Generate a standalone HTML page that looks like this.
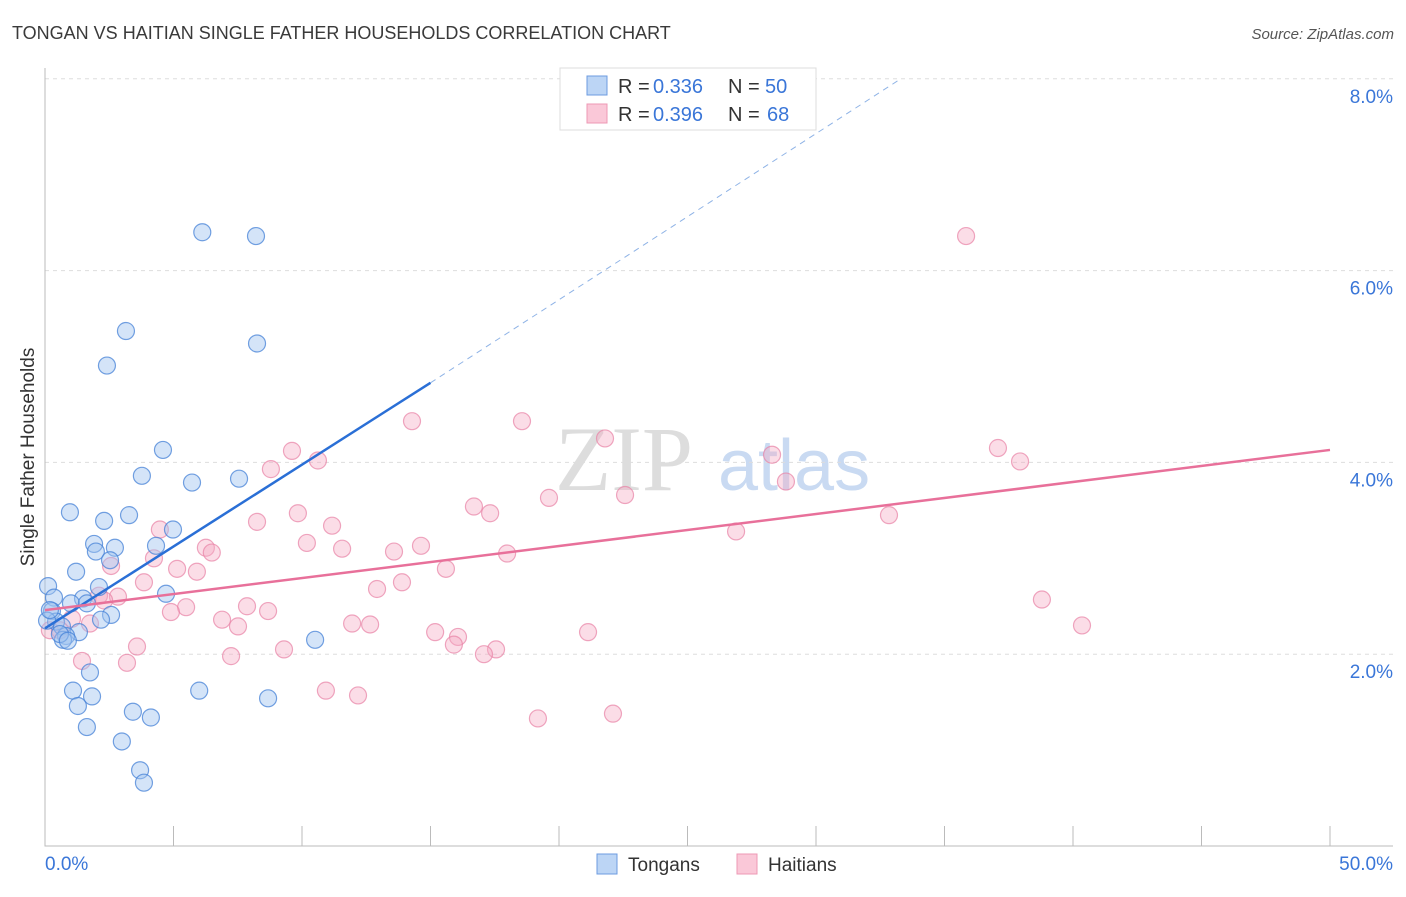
<!DOCTYPE html>
<html><head><meta charset="utf-8"><style>
body{margin:0;background:#fff;font-family:"Liberation Sans",sans-serif}
</style></head><body>
<svg id="c" width="1406" height="892" xmlns="http://www.w3.org/2000/svg" font-family="Liberation Sans, sans-serif">
<text x="12" y="39" font-size="18" fill="#3a3a3a">TONGAN VS HAITIAN SINGLE FATHER HOUSEHOLDS CORRELATION CHART</text>
<text x="1394" y="39" font-size="15" fill="#555" text-anchor="end" font-style="italic">Source: ZipAtlas.com</text>
<text x="555" y="490" font-size="92" fill="#ddd" font-family="Liberation Serif, serif">ZIP</text>
<text x="718" y="490" font-size="72" fill="#c9daf2">atlas</text>
<text transform="translate(34,457) rotate(-90)" font-size="19" fill="#333" text-anchor="middle">Single Father Households</text>
<g id="grid"></g><g id="pts"></g><g id="lines"></g>
<g>
<rect x="560" y="68" width="256" height="62" fill="#fff" stroke="#ddd"/>
<rect x="587" y="76" width="20" height="19" fill="#bcd5f5" stroke="#6c9be0"/>
<rect x="587" y="104" width="20" height="19" fill="#fac8d8" stroke="#ee98b4"/>
<text x="618" y="93" font-size="20" fill="#333">R = </text>
<text x="653" y="93" font-size="20" fill="#3a76d8">0.336</text>
<text x="728" y="93" font-size="20" fill="#333">N = </text>
<text x="765" y="93" font-size="20" fill="#3a76d8">50</text>
<text x="618" y="121" font-size="20" fill="#333">R = </text>
<text x="653" y="121" font-size="20" fill="#3a76d8">0.396</text>
<text x="728" y="121" font-size="20" fill="#333">N = </text>
<text x="767" y="121" font-size="20" fill="#3a76d8">68</text>
</g>
<g>
<rect x="597" y="854" width="20" height="20" fill="#bcd5f5" stroke="#6c9be0"/>
<text x="628" y="871" font-size="19" fill="#333">Tongans</text>
<rect x="737" y="854" width="20" height="20" fill="#fac8d8" stroke="#ee98b4"/>
<text x="768" y="871" font-size="19" fill="#333">Haitians</text>
</g>
</svg>
<script>
const yTicks=[2,4,6,8];
const xTickLabels=["0.0%","50.0%"];
const blueX=[6.12,8.21,3.15,8.25,2.41,4.59,3.77,5.72,7.55,0.97,2.30,3.27,4.98,1.91,1.98,2.72,4.32,2.53,1.21,2.10,0.12,0.35,4.71,1.48,1.01,1.63,2.57,2.18,0.27,0.43,0.08,0.66,1.32,0.82,0.70,0.58,0.89,10.51,1.75,1.09,1.83,6.0,8.68,1.28,3.42,4.12,1.63,2.99,3.70,3.85,0.19];
const blueY=[6.40,6.36,5.37,5.24,5.01,4.13,3.86,3.79,3.83,3.48,3.39,3.45,3.30,3.15,3.07,3.11,3.13,2.98,2.86,2.70,2.71,2.59,2.63,2.58,2.53,2.53,2.41,2.36,2.45,2.34,2.35,2.29,2.23,2.19,2.15,2.21,2.14,2.15,1.81,1.62,1.56,1.62,1.54,1.46,1.40,1.34,1.24,1.09,0.79,0.66,2.46];
const pinkX=[35.84,18.56,14.28,21.79,9.61,37.08,37.94,10.62,28.29,8.79,28.83,22.57,19.61,16.69,17.32,9.84,8.25,11.17,4.47,32.84,26.89,6.26,6.49,10.19,11.56,14.63,13.58,17.98,4.24,5.14,5.91,2.57,15.60,3.85,13.89,12.92,2.84,2.10,7.86,8.68,5.49,4.90,38.79,6.89,7.51,11.95,12.65,40.35,1.05,1.75,0.19,15.18,16.07,21.13,15.91,3.58,17.55,17.08,9.3,7.24,1.44,3.19,10.93,12.18,19.18,22.10,0.58,2.30];
const pinkY=[6.36,4.43,4.43,4.25,4.12,4.15,4.01,4.02,4.08,3.93,3.80,3.66,3.63,3.54,3.47,3.47,3.38,3.34,3.30,3.45,3.28,3.11,3.06,3.16,3.10,3.13,3.07,3.05,3.00,2.89,2.86,2.92,2.89,2.75,2.75,2.68,2.60,2.61,2.50,2.45,2.49,2.44,2.57,2.36,2.29,2.32,2.31,2.30,2.37,2.32,2.25,2.23,2.18,2.23,2.10,2.08,2.05,2.00,2.05,1.98,1.93,1.91,1.62,1.57,1.33,1.38,2.25,2.56];
const blueTrend=[[0,2.27],[15,4.83]];
const blueTrendDash=[[15,4.83],[33.3,8.0]];
const pinkTrend=[[0,2.46],[50,4.13]];
const X=v=>45+v*25.7, Y=v=>846-v*95.9;
const NS="http://www.w3.org/2000/svg";
function mk(p,t,a){const e=document.createElementNS(NS,t);for(const k in a)e.setAttribute(k,a[k]);p.appendChild(e);return e;}
const g=document.getElementById('grid');
yTicks.forEach(t=>{
 const l=mk(g,'line',{x1:45,x2:1393,y1:Y(t),y2:Y(t),stroke:'#ddd','stroke-dasharray':'4,4'});
 
 
 const tx=mk(g,'text',{x:1393,y:Y(t)+24,'font-size':19,fill:'#3a76d8','text-anchor':'end'});
 tx.textContent=t.toFixed(1)+'%';
 
 
});
const ax=mk(g,'path',{d:'M45,68V846H1393',stroke:'#bbb',fill:'none'});


for(let i=0;i<=10;i++){const t=mk(g,'line',{x1:X(i*5),x2:X(i*5),y1:826,y2:846,stroke:'#bbb'});
 
 }
[[0,'start'],[50,'end']].forEach((d,i)=>{const t=mk(g,'text',{x:i?1393:45,y:870,'font-size':19,fill:'#3a76d8','text-anchor':d[1]});
 t.textContent=xTickLabels[i];
 
 });
const p=document.getElementById('pts');
pinkX.forEach((x,i)=>{const c=mk(p,'circle',{cx:X(x),cy:Y(pinkY[i]),r:8.5,fill:'rgba(246,170,195,0.4)',stroke:'rgba(232,130,165,0.7)','stroke-width':1.2});
 
 });
blueX.forEach((x,i)=>{const c=mk(p,'circle',{cx:X(x),cy:Y(blueY[i]),r:8.5,fill:'rgba(160,195,240,0.45)',stroke:'rgba(70,130,215,0.75)','stroke-width':1.2});
 
 });
const L=document.getElementById('lines');
function ln(a,st,w,dash,name){const e=mk(L,'line',{x1:X(a[0][0]),y1:Y(a[0][1]),x2:X(a[1][0]),y2:Y(a[1][1]),stroke:st,'stroke-width':w});if(dash)e.setAttribute('stroke-dasharray',dash);
 
 }
ln(blueTrend,'#2a6fd6',2.5,null,'tongan-trend-line');
ln(blueTrendDash,'#8fb3e6',1,'6,5','tongan-trend-extension');
ln(pinkTrend,'#e8709a',2.5,null,'haitian-trend-line');
</script>
</body></html>
